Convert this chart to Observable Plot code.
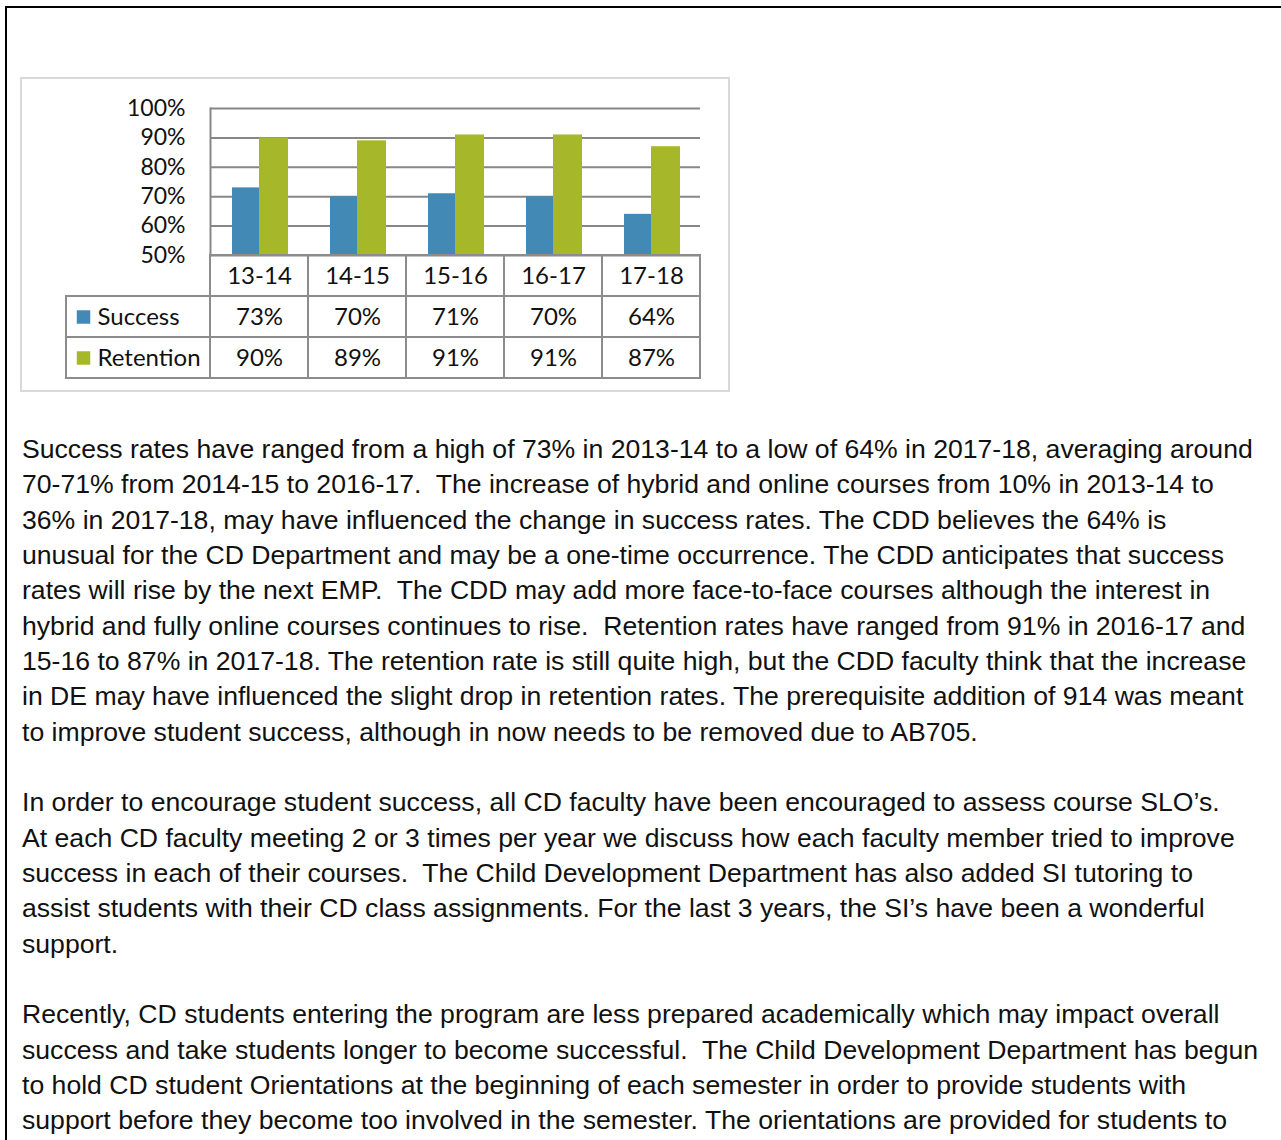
<!DOCTYPE html>
<html><head><meta charset="utf-8">
<script src="https://cdn.jsdelivr.net/npm/d3@7"></script>
<script src="https://cdn.jsdelivr.net/npm/@observablehq/plot@0.6"></script>
<style>
html,body{margin:0;padding:0;background:#fff;}
body{width:1281px;height:1140px;overflow:hidden;position:relative;}
#border{position:absolute;left:5px;top:6px;width:1300px;height:1200px;border-top:2px solid #000;border-left:2px solid #000;}
#box{position:absolute;left:20px;top:77px;width:710px;height:315px;border:2px solid #d9d9d9;box-sizing:border-box;}
#bars{position:absolute;left:20px;top:78px;}
#table{position:absolute;left:20px;top:254px;}
#text{position:absolute;left:22px;top:432px;font-family:"Liberation Sans",Arial,sans-serif;line-height:35.33px;color:#111;white-space:pre;}
#text div{height:35.33px;}
svg{overflow:visible;}
</style></head>
<body>
<div id="border"></div>
<div id="box"></div>
<div id="bars"></div>
<div id="table"></div>
<div id="text"></div>
<script>
const categories = ["13-14","14-15","15-16","16-17","17-18"];
const seriesNames = ["Success","Retention"];
const success = [73,70,71,70,64];
const retention = [90,89,91,91,87];
const seriesColors = ["#4389b6","#a6b82a"];
const yTicks = [50,60,70,80,90,100];

const paragraphs = [
 ["Success rates have ranged from a high of 73% in 2013-14 to a low of 64% in 2017-18, averaging around",
  "70-71% from 2014-15 to 2016-17.  The increase of hybrid and online courses from 10% in 2013-14 to",
  "36% in 2017-18, may have influenced the change in success rates. The CDD believes the 64% is",
  "unusual for the CD Department and may be a one-time occurrence. The CDD anticipates that success",
  "rates will rise by the next EMP.  The CDD may add more face-to-face courses although the interest in",
  "hybrid and fully online courses continues to rise.  Retention rates have ranged from 91% in 2016-17 and",
  "15-16 to 87% in 2017-18. The retention rate is still quite high, but the CDD faculty think that the increase",
  "in DE may have influenced the slight drop in retention rates. The prerequisite addition of 914 was meant",
  "to improve student success, although in now needs to be removed due to AB705."],
 ["In order to encourage student success, all CD faculty have been encouraged to assess course SLO\u2019s.",
  "At each CD faculty meeting 2 or 3 times per year we discuss how each faculty member tried to improve",
  "success in each of their courses.  The Child Development Department has also added SI tutoring to",
  "assist students with their CD class assignments. For the last 3 years, the SI\u2019s have been a wonderful",
  "support."],
 ["Recently, CD students entering the program are less prepared academically which may impact overall",
  "success and take students longer to become successful.  The Child Development Department has begun",
  "to hold CD student Orientations at the beginning of each semester in order to provide students with",
  "support before they become too involved in the semester. The orientations are provided for students to"]
];

const values = {Success: success, Retention: retention};
const rows = categories.flatMap((c, i) => seriesNames.map(s => ({cat: c, series: s, value: values[s][i]})));
const color = {domain: seriesNames, range: seriesColors};

// Bar chart
const bars = Plot.plot({
  width: 710, height: 190,
  marginLeft: 190, marginRight: 30, marginTop: 30, marginBottom: 13,
  x: {domain: categories, padding: 0, axis: null},
  y: {domain: [50, 100], axis: null},
  color,
  style: {background: "transparent", fontFamily: "Lato, 'Noto Sans', sans-serif", color: "#111", overflow: "visible"},
  marks: [
    Plot.ruleY(yTicks, {stroke: "#878787", strokeWidth: 2}),
    Plot.barY(rows.filter(d => d.series === "Success"), {x: "cat", y1: 50, y2: "value", fill: "series", insetLeft: 22, insetRight: 49}),
    Plot.barY(rows.filter(d => d.series === "Retention"), {x: "cat", y1: 50, y2: "value", fill: "series", insetLeft: 49, insetRight: 20}),
    Plot.axisY({ticks: yTicks, tickSize: 0, tickPadding: 25, tickFormat: d => d + "%", fontSize: 23, anchor: "left", label: null}),
    Plot.frame({anchor: "left", stroke: "#878787", strokeWidth: 2})
  ]
});
document.getElementById("bars").append(bars);

// Data table
const rowKeys = ["head", ...seriesNames];
const headCells = categories.map(c => ({cat: c, row: "head", text: c}));
const dataCells = rows.map(d => ({cat: d.cat, row: d.series, text: d.value + "%"}));
const labelCells = seriesNames.map(s => ({cat: "", row: s, text: s}));
const table = Plot.plot({
  width: 710, height: 126,
  marginLeft: 92, marginRight: 30, marginTop: 1, marginBottom: 2,
  x: {domain: ["", ...categories], padding: 0, axis: null},
  y: {domain: rowKeys, padding: 0, axis: null},
  color,
  style: {background: "transparent", fontFamily: "Lato, 'Noto Sans', sans-serif", color: "#111", overflow: "visible"},
  marks: [
    Plot.cell([...headCells, ...dataCells], {x: "cat", y: "row", fill: "none", stroke: "#8c8c8c", strokeWidth: 2}),
    Plot.cell(labelCells, {x: "cat", y: "row", fill: "none", stroke: "#8c8c8c", strokeWidth: 2, insetLeft: -46}),
    Plot.text([...headCells, ...dataCells], {x: "cat", y: "row", text: "text", fontSize: 24, fill: "#111"}),
    Plot.text(labelCells, {x: "cat", y: "row", text: "text", fontSize: 24, fill: "#111", textAnchor: "start", dx: -64}),
    Plot.dot(labelCells, {x: "cat", y: "row", symbol: "square", r: 7.6, fill: "text", stroke: null, dx: -78})
  ]
});
document.getElementById("table").append(table);

// Paragraph text, sized so the first line spans the same width as the reference
const textEl = document.getElementById("text");
const ctx = document.createElement("canvas").getContext("2d");
ctx.font = "100px 'Liberation Sans'";
const fs = 100 * 1231 / ctx.measureText(paragraphs[0][0]).width;
textEl.style.fontSize = fs.toFixed(2) + "px";
paragraphs.forEach((p, i) => {
  if (i > 0) { const b = document.createElement("div"); b.textContent = " "; textEl.append(b); }
  p.forEach(line => { const d = document.createElement("div"); d.textContent = line; textEl.append(d); });
});
</script>
</body></html>
